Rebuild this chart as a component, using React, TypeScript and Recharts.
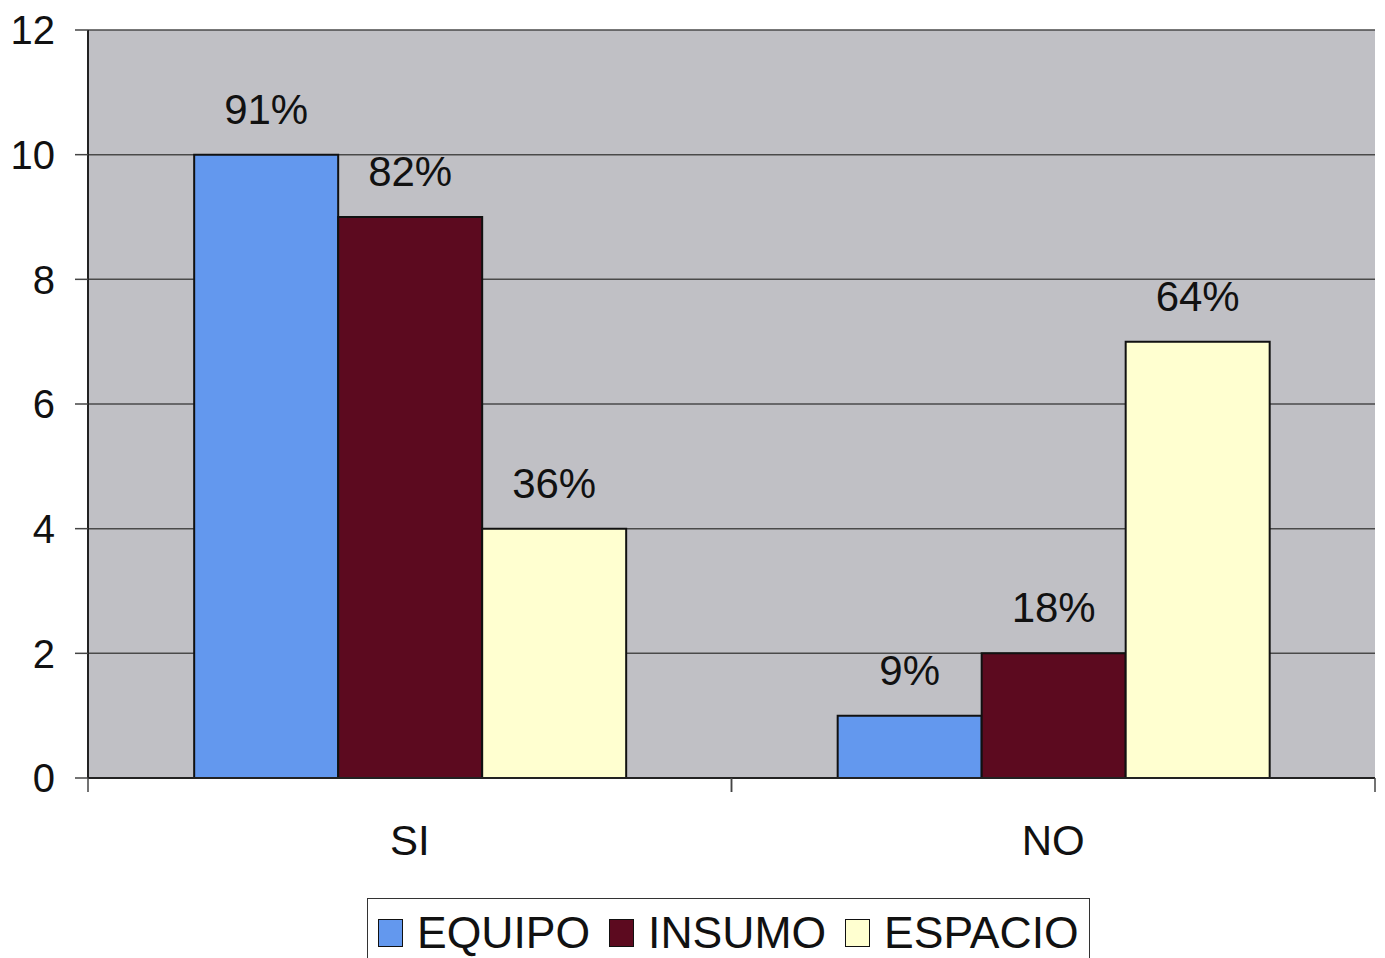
import { Bar, BarChart, CartesianGrid, LabelList, XAxis, YAxis } from 'recharts';

const categories = ['SI', 'NO'];
const equipo = [10, 1];
const insumo = [9, 2];
const espacio = [4, 7];
const respondents = 11;
const yTicks = [0, 2, 4, 6, 8, 10, 12];

const series = [
  { key: 'EQUIPO', values: equipo, color: '#6398ee' },
  { key: 'INSUMO', values: insumo, color: '#5c0a1f' },
  { key: 'ESPACIO', values: espacio, color: '#ffffd0' },
];

const data = categories.map((name, i) => ({
  name,
  EQUIPO: equipo[i],
  INSUMO: insumo[i],
  ESPACIO: espacio[i],
}));

const WIDTH = 1385;
const HEIGHT = 958;
const X_AXIS_H = 30;
const MARGIN = { top: 30, right: 10, left: 0, bottom: 180 - X_AXIS_H };
const Y_AXIS_W = 88;
const PLOT_W = WIDTH - MARGIN.left - MARGIN.right - Y_AXIS_W;
const FONT = 'Liberation Sans, Arial, sans-serif';

function pct(value: number) {
  return `${Math.round((value / respondents) * 100)}%`;
}

// category labels sit centred, tick marks sit on the category boundaries
function CategoryTick({ x, y, payload }: any) {
  const band = PLOT_W / categories.length;
  return (
    <g>
      <line x1={x - band / 2} x2={x - band / 2} y1={y} y2={y + 14} stroke="#444" strokeWidth={1.5} />
      <line x1={x + band / 2} x2={x + band / 2} y1={y} y2={y + 14} stroke="#444" strokeWidth={1.5} />
      <text x={x} y={y + 77} textAnchor="middle" fontSize={42} fontFamily={FONT} fill="#111">
        {payload.value}
      </text>
    </g>
  );
}

function LegendBox() {
  return (
    <div
      style={{
        position: 'absolute',
        left: 367,
        top: 898,
        width: 723,
        height: 70,
        display: 'flex',
        alignItems: 'center',
        paddingLeft: 10,
        border: '1.5px solid #333',
        boxSizing: 'border-box',
        fontFamily: FONT,
        fontSize: 44.5,
        color: '#111',
        background: '#fff',
      }}
    >
      {series.map((s) => (
        <span key={s.key} style={{ display: 'flex', alignItems: 'center', marginRight: 19 }}>
          <span
            style={{
              display: 'inline-block',
              width: 23,
              height: 26,
              background: s.color,
              border: '1.5px solid #111',
              marginRight: 14,
            }}
          />
          {s.key}
        </span>
      ))}
    </div>
  );
}

export default function App() {
  return (
    <div style={{ position: 'absolute', left: 0, top: 0, width: WIDTH, height: HEIGHT, background: '#fff', overflow: 'hidden' }}>
      <BarChart width={WIDTH} height={HEIGHT} data={data} margin={MARGIN} barCategoryGap="16.5%" barGap={0}>
        <CartesianGrid vertical={false} stroke="#4a4a4a" strokeWidth={1.5} fill="#c0c0c5" fillOpacity={1} />
        <XAxis
          dataKey="name"
          height={X_AXIS_H}
          tickLine={false}
          tickSize={0}
          tickMargin={0}
          axisLine={{ stroke: '#222', strokeWidth: 2 }}
          tick={<CategoryTick />}
          interval={0}
        />
        <YAxis
          domain={[0, 12]}
          ticks={yTicks}
          width={Y_AXIS_W}
          tickSize={13}
          tickMargin={20}
          tickLine={{ stroke: '#444', strokeWidth: 1.5 }}
          axisLine={{ stroke: '#222', strokeWidth: 2 }}
          tick={{ fontSize: 40, fontFamily: FONT, fill: '#111' }}
        />
        <YAxis
          yAxisId="right"
          orientation="right"
          domain={[0, 12]}
          width={0}
          tick={false}
          tickLine={false}
          axisLine={{ stroke: '#333', strokeWidth: 2 }}
        />
        {series.map((s) => (
          <Bar key={s.key} dataKey={s.key} fill={s.color} stroke="#111" strokeWidth={2} isAnimationActive={false}>
            <LabelList
              dataKey={s.key}
              content={({ x, y, width, value }: any) => (
                <text
                  x={Number(x) + Number(width) / 2}
                  y={Number(y) - 31}
                  textAnchor="middle"
                  fontSize={42}
                  fontFamily={FONT}
                  fill="#111"
                >
                  {pct(Number(value))}
                </text>
              )}
            />
          </Bar>
        ))}
      </BarChart>
      <LegendBox />
    </div>
  );
}
